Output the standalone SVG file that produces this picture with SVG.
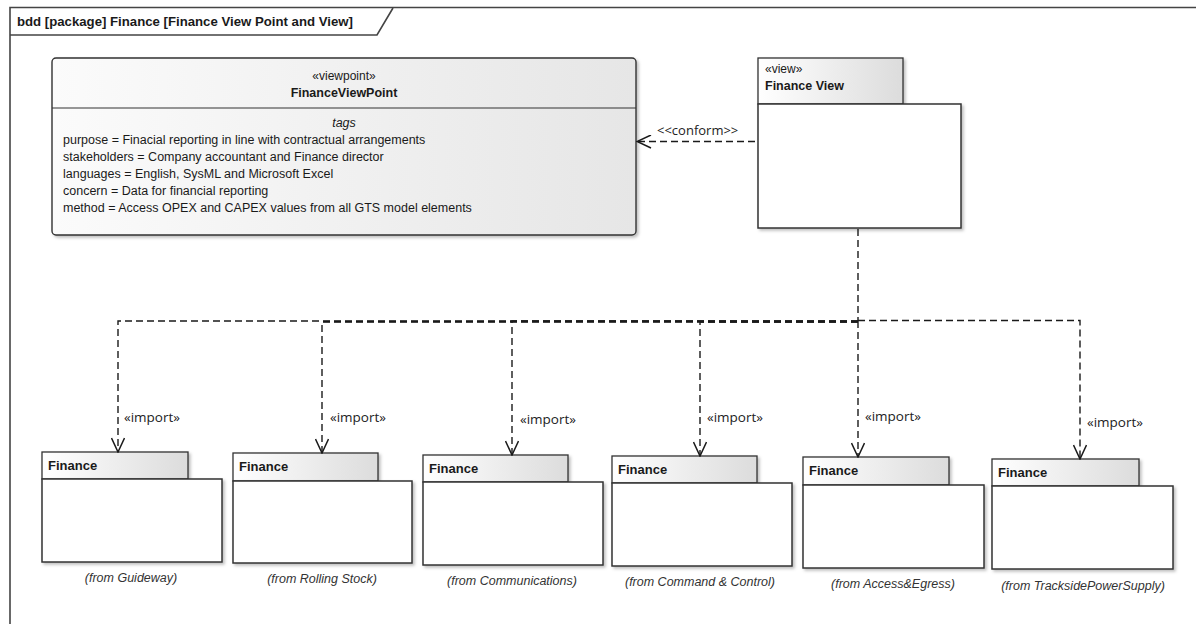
<svg xmlns="http://www.w3.org/2000/svg" width="1196" height="624" viewBox="0 0 1196 624">
  <defs>
    <linearGradient id="tabFill" x1="0" y1="0" x2="1" y2="0">
      <stop offset="0" stop-color="#ffffff"/>
      <stop offset="1" stop-color="#dcdcdc"/>
    </linearGradient>
    <linearGradient id="vpFill" x1="0" y1="0" x2="1" y2="0">
      <stop offset="0" stop-color="#fbfbfb"/>
      <stop offset="1" stop-color="#e6e6e6"/>
    </linearGradient>
    <filter id="shadow" x="-5%" y="-5%" width="115%" height="120%">
      <feDropShadow dx="2" dy="2" stdDeviation="1.5" flood-color="#000" flood-opacity="0.25"/>
    </filter>
    <marker id="openArrow" viewBox="0 0 16 14" refX="15" refY="7" markerWidth="16" markerHeight="14" markerUnits="userSpaceOnUse" orient="auto">
      <path d="M1,0.5 L15,7 L1,13.5" fill="none" stroke="#1a1a1a" stroke-width="1.5"/>
    </marker>
  </defs>
  <style>
    text { font-family: "Liberation Sans", Arial, sans-serif; fill: #1a1a1a; }
    .title { font-size: 13.2px; font-weight: bold; }
    .stereo { font-size: 12px; }
    .name { font-size: 12.5px; font-weight: bold; }
    .pkgName { font-size: 13px; font-weight: bold; }
    .tag { font-size: 12.5px; }
    .tagHead { font-size: 12.5px; font-style: italic; }
    .from { font-size: 12.5px; font-style: italic; fill: #333; }
    .lbl { font-family: "Open Sans", "Liberation Sans", sans-serif; font-size: 13.5px; fill: #222; }
    .frame { fill: none; stroke: #444; stroke-width: 1.6; }
    .tab { fill: url(#tabFill); stroke: #333; stroke-width: 1.3; }
    .body { fill: #fff; stroke: #333; stroke-width: 1.5; }
    .dep { fill: none; stroke: #1a1a1a; stroke-width: 1.4; stroke-dasharray: 7 4; }
  </style>

  <rect width="1196" height="624" fill="#fff"/>

  <!-- diagram frame with title tab -->
  <g id="frame">
    <path class="frame" d="M10,630 V7.5 H1200"/>
    <path class="frame" d="M10,35 H377 L393,8"/>
    <text class="title" x="17" y="26">bdd [package] Finance [Finance View Point and View]</text>
  </g>

  <!-- viewpoint block -->
  <g id="FinanceViewPoint">
    <rect x="52" y="58" width="584" height="177" rx="4" fill="url(#vpFill)" stroke="#333" stroke-width="1.4" filter="url(#shadow)"/>
    <line x1="52" y1="108" x2="636" y2="108" stroke="#333" stroke-width="1.2"/>
    <text class="stereo" x="344" y="80" text-anchor="middle">«viewpoint»</text>
    <text class="name" x="344" y="97" text-anchor="middle">FinanceViewPoint</text>
    <text class="tagHead" x="344" y="127" text-anchor="middle">tags</text>
    <text class="tag" x="63" y="144">purpose = Finacial reporting in line with contractual arrangements</text>
    <text class="tag" x="63" y="161">stakeholders = Company accountant and Finance director</text>
    <text class="tag" x="63" y="178">languages = English, SysML and Microsoft Excel</text>
    <text class="tag" x="63" y="195">concern = Data for financial reporting</text>
    <text class="tag" x="63" y="212">method = Access OPEX and CAPEX values from all GTS model elements</text>
  </g>

  <!-- view package -->
  <g id="FinanceView">
    <rect class="tab" x="758" y="58" width="145" height="46" filter="url(#shadow)"/>
    <rect class="body" x="758" y="104" width="203" height="124" filter="url(#shadow)"/>
    <text class="stereo" x="765" y="73">«view»</text>
    <text class="name" x="765" y="90">Finance View</text>
  </g>

  <!-- imported packages -->
  <g id="pkgGuideway">
    <rect class="tab" x="42" y="452" width="146" height="27" filter="url(#shadow)"/>
    <rect class="body" x="42" y="479" width="180" height="83" filter="url(#shadow)"/>
    <text class="pkgName" x="48" y="470">Finance</text>
    <text class="from" x="131" y="582" text-anchor="middle">(from Guideway)</text>
  </g>
  <g id="pkgRollingStock">
    <rect class="tab" x="233" y="453" width="145" height="28" filter="url(#shadow)"/>
    <rect class="body" x="233" y="481" width="179" height="82" filter="url(#shadow)"/>
    <text class="pkgName" x="239" y="471">Finance</text>
    <text class="from" x="322" y="583" text-anchor="middle">(from Rolling Stock)</text>
  </g>
  <g id="pkgCommunications">
    <rect class="tab" x="423" y="455" width="145" height="27" filter="url(#shadow)"/>
    <rect class="body" x="423" y="482" width="180" height="83" filter="url(#shadow)"/>
    <text class="pkgName" x="429" y="473">Finance</text>
    <text class="from" x="512" y="585" text-anchor="middle">(from Communications)</text>
  </g>
  <g id="pkgCommandControl">
    <rect class="tab" x="612" y="456" width="145" height="27" filter="url(#shadow)"/>
    <rect class="body" x="612" y="483" width="180" height="83" filter="url(#shadow)"/>
    <text class="pkgName" x="618" y="474">Finance</text>
    <text class="from" x="700" y="586" text-anchor="middle">(from Command &amp; Control)</text>
  </g>
  <g id="pkgAccessEgress">
    <rect class="tab" x="803" y="457" width="146" height="28" filter="url(#shadow)"/>
    <rect class="body" x="803" y="485" width="181" height="83" filter="url(#shadow)"/>
    <text class="pkgName" x="809" y="475">Finance</text>
    <text class="from" x="893" y="588" text-anchor="middle">(from Access&amp;Egress)</text>
  </g>
  <g id="pkgTracksidePowerSupply">
    <rect class="tab" x="992" y="459" width="147" height="27" filter="url(#shadow)"/>
    <rect class="body" x="992" y="486" width="181" height="83" filter="url(#shadow)"/>
    <text class="pkgName" x="998" y="477">Finance</text>
    <text class="from" x="1083" y="590" text-anchor="middle">(from TracksidePowerSupply)</text>
  </g>

  <!-- dependencies -->
  <g id="connectors">
    <!-- conform: view to viewpoint -->
    <path class="dep" d="M755,141.5 H637" stroke-dasharray="9 5" marker-end="url(#openArrow)"/>
    <text class="lbl" x="657" y="135" style="font-size:13px">&lt;&lt;conform&gt;&gt;</text>

    <!-- shared trunk below the view -->
    <path class="dep" d="M858,229 V321" stroke-width="3.4" stroke-dasharray="8 4"/>
    <path class="dep" d="M858,321.5 H322" stroke-width="2.4" stroke-dasharray="7 3"/>

    <!-- import branches -->
    <path class="dep" d="M858,321 H118 V452" marker-end="url(#openArrow)"/>
    <path class="dep" d="M858,322 H322 V453" marker-end="url(#openArrow)"/>
    <path class="dep" d="M858,321 H512 V455" marker-end="url(#openArrow)"/>
    <path class="dep" d="M858,322 H700 V456" marker-end="url(#openArrow)"/>
    <path class="dep" d="M858,321 V457" marker-end="url(#openArrow)"/>
    <path class="dep" d="M858,320.5 H1080 V459" marker-end="url(#openArrow)"/>

    <text class="lbl" x="124" y="422">«import»</text>
    <text class="lbl" x="330" y="422">«import»</text>
    <text class="lbl" x="520" y="424">«import»</text>
    <text class="lbl" x="707" y="422">«import»</text>
    <text class="lbl" x="865" y="421">«import»</text>
    <text class="lbl" x="1087" y="427">«import»</text>
  </g>
</svg>
